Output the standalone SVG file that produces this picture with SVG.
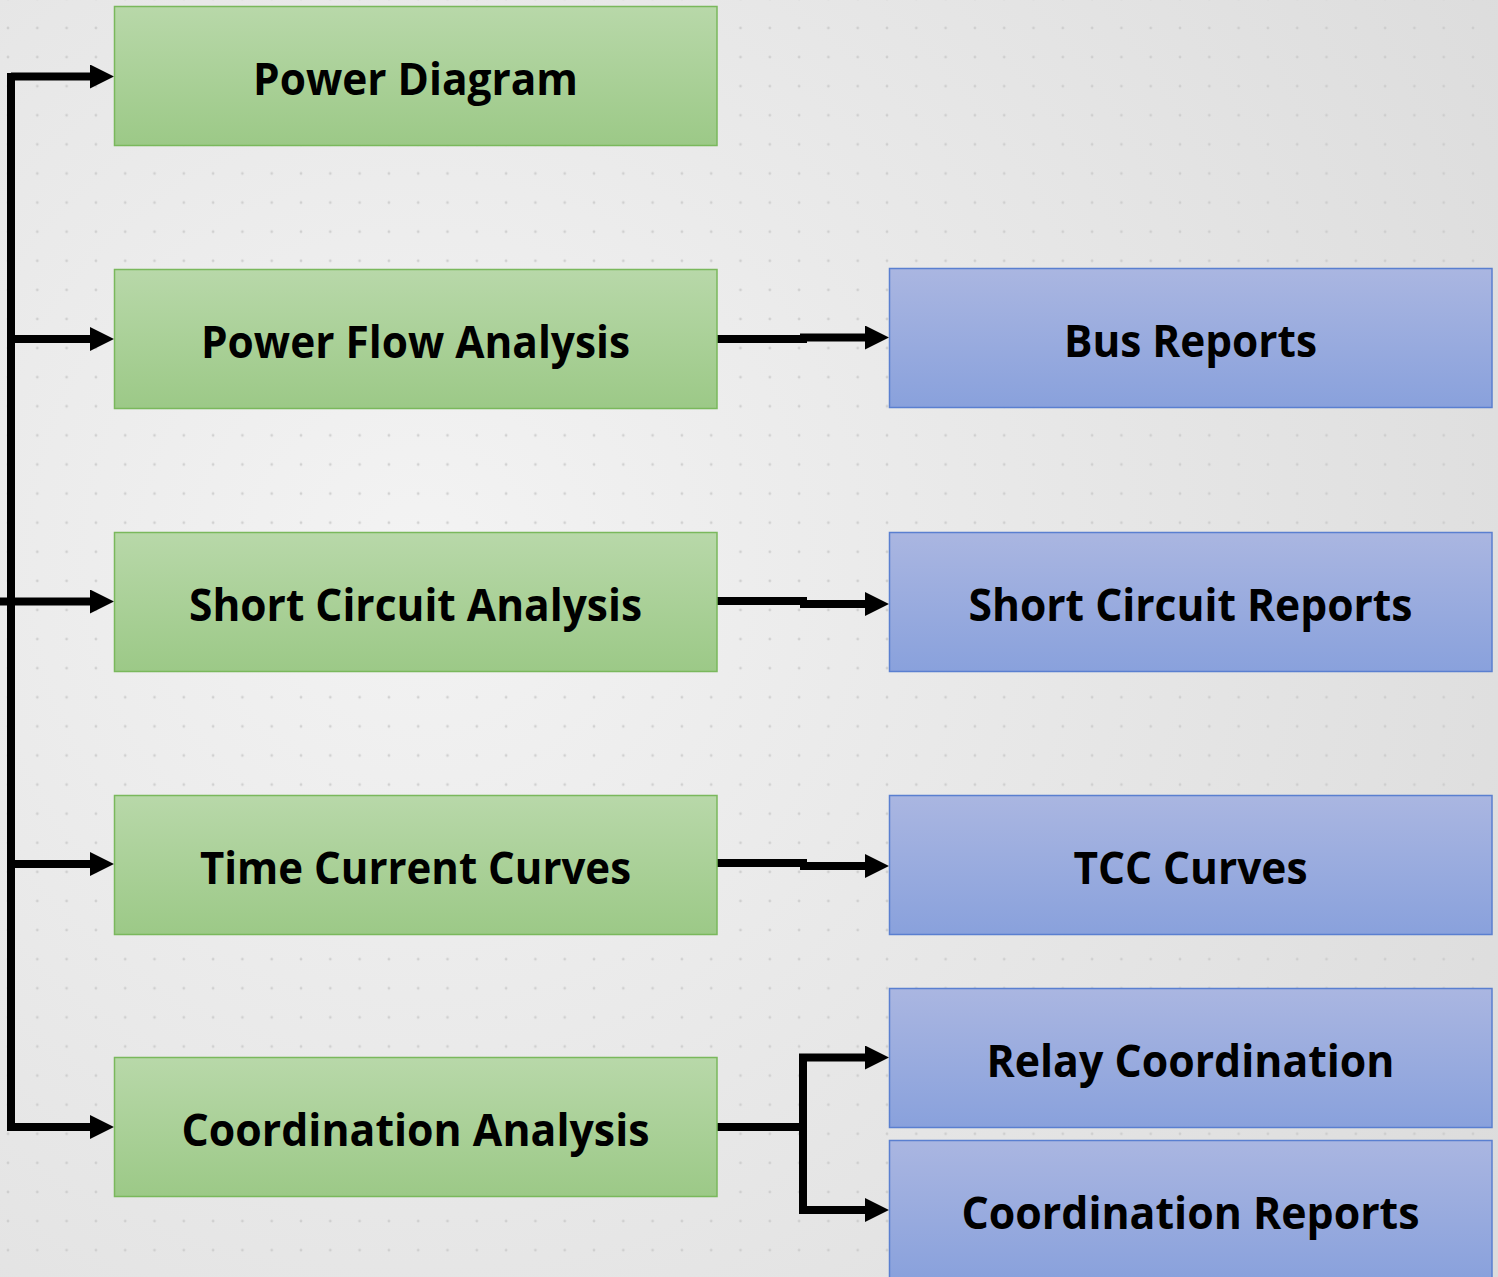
<svg xmlns="http://www.w3.org/2000/svg" width="1498" height="1277" viewBox="0 0 1498 1277">
  <defs>
    <radialGradient id="bg" cx="420" cy="560" r="1250" gradientUnits="userSpaceOnUse">
      <stop offset="0" stop-color="#f3f3f3"/>
      <stop offset="1" stop-color="#dcdcdc"/>
    </radialGradient>
    <pattern id="dots" x="8" y="28" width="29.3" height="29.1" patternUnits="userSpaceOnUse">
      <circle cx="0" cy="0" r="1.4" fill="#c9c9c9"/>
      <circle cx="29.3" cy="0" r="1.4" fill="#c9c9c9"/>
      <circle cx="0" cy="29.1" r="1.4" fill="#c9c9c9"/>
      <circle cx="29.3" cy="29.1" r="1.4" fill="#c9c9c9"/>
    </pattern>
    <linearGradient id="gGreen" x1="0" y1="0" x2="0" y2="1">
      <stop offset="0" stop-color="#b8d8a9"/>
      <stop offset="1" stop-color="#9cc987"/>
    </linearGradient>
    <linearGradient id="gBlue" x1="0" y1="0" x2="0" y2="1">
      <stop offset="0" stop-color="#aab6e1"/>
      <stop offset="1" stop-color="#89a1dc"/>
    </linearGradient>
    <marker id="arrow" markerUnits="userSpaceOnUse" markerWidth="24" markerHeight="24" viewBox="0 0 24 24" refX="0" refY="12" orient="auto">
      <path d="M0,0 L24,12 L0,24 Z" fill="#000"/>
    </marker>
    <style>
      .green { fill: url(#gGreen); stroke: #7ab85c; stroke-width: 1.5; }
      .blue { fill: url(#gBlue); stroke: #5a7fd0; stroke-width: 1.5; }
      .lbl { font-family: "Open Sans", "Noto Sans", "Liberation Sans", sans-serif; font-weight: 700; font-size: 45px; fill: #000; text-anchor: middle; }
      .conn { fill: none; stroke: #000; stroke-width: 8; stroke-linejoin: miter; stroke-linecap: butt; }
      .arr { marker-end: url(#arrow); }
    </style>
  </defs>

  <rect x="0" y="0" width="1498" height="1277" fill="url(#bg)"/>
  <rect x="0" y="0" width="1498" height="1277" fill="url(#dots)" opacity="0.8"/>

  <g id="connectors">
    <path class="conn" d="M11,73 V1131"/>
    <path class="conn arr" d="M11,76.5 H90"/>
    <path class="conn arr" d="M11,339 H90"/>
    <path class="conn arr" d="M0,601.5 H90"/>
    <path class="conn arr" d="M11,864 H90"/>
    <path class="conn arr" d="M11,1127 H90"/>

    <path class="conn" d="M717,339 H807"/>
    <path class="conn arr" d="M800,337.5 H865"/>
    <path class="conn" d="M717,601 H807"/>
    <path class="conn arr" d="M800,604 H865"/>
    <path class="conn" d="M717,863 H807"/>
    <path class="conn arr" d="M800,866 H865"/>

    <path class="conn" d="M717,1127 H807"/>
    <path class="conn arr" d="M803,1131 V1057.5 H865"/>
    <path class="conn arr" d="M803,1123 V1210 H865"/>
  </g>

  <g id="power-diagram">
    <rect class="green" x="114.5" y="6.5" width="602.5" height="139"/>
    <text class="lbl" x="415.5" y="95" textLength="325" lengthAdjust="spacingAndGlyphs">Power Diagram</text>
  </g>
  <g id="power-flow-analysis">
    <rect class="green" x="114.5" y="269.5" width="602.5" height="139"/>
    <text class="lbl" x="415.5" y="357.5" textLength="429" lengthAdjust="spacingAndGlyphs">Power Flow Analysis</text>
  </g>
  <g id="short-circuit-analysis">
    <rect class="green" x="114.5" y="532.5" width="602.5" height="139"/>
    <text class="lbl" x="415.5" y="620.5" textLength="453" lengthAdjust="spacingAndGlyphs">Short Circuit Analysis</text>
  </g>
  <g id="time-current-curves">
    <rect class="green" x="114.5" y="795.5" width="602.5" height="139"/>
    <text class="lbl" x="415.5" y="883.5" textLength="431" lengthAdjust="spacingAndGlyphs">Time Current Curves</text>
  </g>
  <g id="coordination-analysis">
    <rect class="green" x="114.5" y="1057.5" width="602.5" height="139"/>
    <text class="lbl" x="415.5" y="1145.5" textLength="468" lengthAdjust="spacingAndGlyphs">Coordination Analysis</text>
  </g>

  <g id="bus-reports">
    <rect class="blue" x="889.5" y="268.5" width="602.5" height="139"/>
    <text class="lbl" x="1190.5" y="356.5" textLength="253" lengthAdjust="spacingAndGlyphs">Bus Reports</text>
  </g>
  <g id="short-circuit-reports">
    <rect class="blue" x="889.5" y="532.5" width="602.5" height="139"/>
    <text class="lbl" x="1190.5" y="620.5" textLength="444" lengthAdjust="spacingAndGlyphs">Short Circuit Reports</text>
  </g>
  <g id="tcc-curves">
    <rect class="blue" x="889.5" y="795.5" width="602.5" height="139"/>
    <text class="lbl" x="1190.5" y="883.5" textLength="234" lengthAdjust="spacingAndGlyphs">TCC Curves</text>
  </g>
  <g id="relay-coordination">
    <rect class="blue" x="889.5" y="988.5" width="602.5" height="139"/>
    <text class="lbl" x="1190.5" y="1076.5" textLength="408" lengthAdjust="spacingAndGlyphs">Relay Coordination</text>
  </g>
  <g id="coordination-reports">
    <rect class="blue" x="889.5" y="1140.5" width="602.5" height="139"/>
    <text class="lbl" x="1190.5" y="1228.5" textLength="458" lengthAdjust="spacingAndGlyphs">Coordination Reports</text>
  </g>
</svg>
